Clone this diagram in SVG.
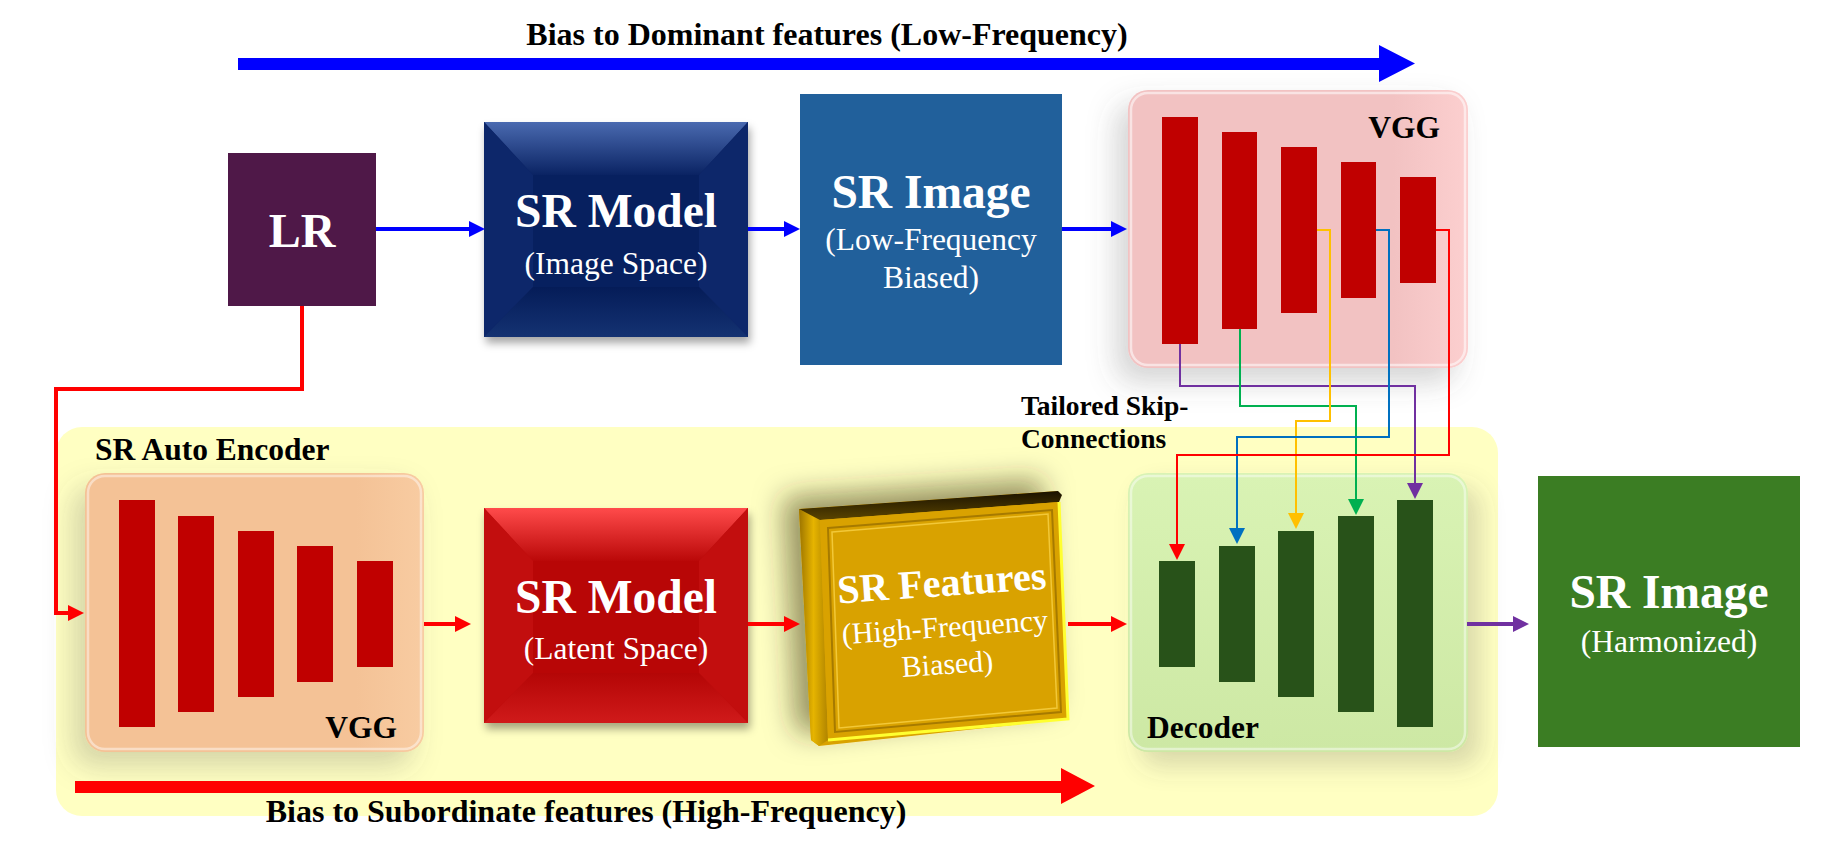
<svg xmlns="http://www.w3.org/2000/svg" width="1840" height="851" viewBox="0 0 1840 851">
<style>
  text { font-family: "Liberation Serif", "Times New Roman", serif; }
  .big { font-size: 47.5px; font-weight: bold; fill: #fff; text-anchor: middle; }
  .sub { font-size: 31.5px; fill: #fff; text-anchor: middle; }
  .lbl { font-size: 31.5px; font-weight: bold; fill: #000; }
  .ttl { font-size: 32px; font-weight: bold; fill: #000; text-anchor: middle; }
  .flow { fill: none; stroke-width: 4; }
  .skip { fill: none; stroke-width: 2; }
  .rbar { fill: #C00000; }
  .gbar { fill: #285219; }
</style>
<defs>
  <filter id="shBox" x="-10%" y="-10%" width="130%" height="130%">
    <feDropShadow dx="2" dy="6" stdDeviation="4" flood-color="#000" flood-opacity="0.35"/>
  </filter>
  <filter id="shLeft" x="-30%" y="-20%" width="160%" height="160%">
    <feDropShadow dx="-12" dy="14" stdDeviation="14" flood-color="#555" flood-opacity="0.25"/>
  </filter>
  <filter id="shRight" x="-20%" y="-20%" width="160%" height="160%">
    <feDropShadow dx="12" dy="14" stdDeviation="12" flood-color="#555" flood-opacity="0.22"/>
  </filter>
  <filter id="shFeat" x="-40%" y="-40%" width="180%" height="180%">
    <feDropShadow dx="-16" dy="-12" stdDeviation="14" flood-color="#302c00" flood-opacity="0.5"/>
  </filter>
  <linearGradient id="pinkG" x1="0" y1="0" x2="1" y2="0">
    <stop offset="0" stop-color="#F2C2C2"/>
    <stop offset="0.78" stop-color="#F2C2C2"/>
    <stop offset="1" stop-color="#FCCFCF"/>
  </linearGradient>
  <linearGradient id="peachG" x1="0" y1="0" x2="1" y2="0">
    <stop offset="0" stop-color="#F4C296"/>
    <stop offset="0.8" stop-color="#F4C296"/>
    <stop offset="1" stop-color="#F8CCA2"/>
  </linearGradient>
  <linearGradient id="decG" x1="0" y1="0" x2="0" y2="1">
    <stop offset="0" stop-color="#D9F3B4"/>
    <stop offset="1" stop-color="#CDE8A4"/>
  </linearGradient>
  <linearGradient id="navyTop" x1="0" y1="0" x2="0" y2="1">
    <stop offset="0" stop-color="#4A6AB0"/>
    <stop offset="1" stop-color="#0A2363"/>
  </linearGradient>
  <linearGradient id="navyBot" x1="0" y1="0" x2="0" y2="1">
    <stop offset="0" stop-color="#051C58"/>
    <stop offset="1" stop-color="#143272"/>
  </linearGradient>
  <linearGradient id="redTop" x1="0" y1="0" x2="0" y2="1">
    <stop offset="0" stop-color="#FF4B4B"/>
    <stop offset="1" stop-color="#BA0808"/>
  </linearGradient>
  <linearGradient id="redBot" x1="0" y1="0" x2="0" y2="1">
    <stop offset="0" stop-color="#B40606"/>
    <stop offset="1" stop-color="#D01A1A"/>
  </linearGradient>
  <linearGradient id="goldSide" x1="0" y1="0" x2="1" y2="0">
    <stop offset="0" stop-color="#9C7400"/>
    <stop offset="0.5" stop-color="#E6B400"/>
    <stop offset="1" stop-color="#B08400"/>
  </linearGradient>
  <linearGradient id="goldTop" x1="0" y1="0" x2="0" y2="1">
    <stop offset="0" stop-color="#1A1200"/>
    <stop offset="1" stop-color="#5A4400"/>
  </linearGradient>
  <marker id="mBlue" markerUnits="userSpaceOnUse" markerWidth="16" markerHeight="16" refX="1" refY="8" orient="auto"><path d="M0,0 L16,8 L0,16 z" fill="#0000FF"/></marker>
  <marker id="mRed" markerUnits="userSpaceOnUse" markerWidth="16" markerHeight="16" refX="1" refY="8" orient="auto"><path d="M0,0 L16,8 L0,16 z" fill="#FF0000"/></marker>
  <marker id="mPurple" markerUnits="userSpaceOnUse" markerWidth="16" markerHeight="16" refX="1" refY="8" orient="auto"><path d="M0,0 L16,8 L0,16 z" fill="#7030A0"/></marker>
  <marker id="mGreen" markerUnits="userSpaceOnUse" markerWidth="16" markerHeight="16" refX="1" refY="8" orient="auto"><path d="M0,0 L16,8 L0,16 z" fill="#00B050"/></marker>
  <marker id="mYellow" markerUnits="userSpaceOnUse" markerWidth="16" markerHeight="16" refX="1" refY="8" orient="auto"><path d="M0,0 L16,8 L0,16 z" fill="#FFC000"/></marker>
  <marker id="mSkyBlue" markerUnits="userSpaceOnUse" markerWidth="16" markerHeight="16" refX="1" refY="8" orient="auto"><path d="M0,0 L16,8 L0,16 z" fill="#0070C0"/></marker>
</defs>

<rect width="1840" height="851" fill="#FFFFFF"/>

<g id="sr-auto-encoder-panel">
  <rect x="56" y="427" width="1442" height="389" rx="26" fill="#FFFFC2"/>
  <text class="lbl" x="95" y="460">SR Auto Encoder</text>
</g>

<g id="title-top">
  <text class="ttl" x="827" y="45">Bias to Dominant features (Low-Frequency)</text>
</g>

<g id="lr">
  <rect x="228" y="153" width="148" height="153" fill="#4F1848"/>
  <text class="big" x="302" y="247" style="font-size:48px">LR</text>
</g>

<g id="sr-model-image" transform="translate(484,122)">
  <g filter="url(#shBox)">
    <rect width="264" height="215" fill="#0A2363"/>
  </g>
  <polygon points="0,0 264,0 215,53 49,53" fill="url(#navyTop)"/>
  <polygon points="0,0 49,53 49,165 0,215" fill="#0D276A"/>
  <polygon points="264,0 215,53 215,165 264,215" fill="#0D276A"/>
  <polygon points="0,215 264,215 215,165 49,165" fill="url(#navyBot)"/>
  <rect x="49" y="53" width="166" height="112" fill="#07205F"/>
  <text class="big" x="132" y="105">SR Model</text>
  <text class="sub" x="132" y="152">(Image Space)</text>
</g>

<g id="sr-image-lf">
  <rect x="800" y="94" width="262" height="271" fill="#21609B"/>
  <text class="big" x="931" y="208">SR Image</text>
  <text class="sub" x="931" y="250">(Low-Frequency</text>
  <text class="sub" x="931" y="288">Biased)</text>
</g>

<g id="vgg-top">
  <rect x="1128" y="90" width="340" height="278" rx="20" fill="url(#pinkG)" filter="url(#shLeft)"/>
  <rect x="1131" y="93" width="334" height="272" rx="17" fill="none" stroke="#FFFFFF" stroke-opacity="0.55" stroke-width="2.5"/>
  <rect class="rbar" x="1162" y="117" width="36" height="227"/>
  <rect class="rbar" x="1222" y="132" width="35" height="197"/>
  <rect class="rbar" x="1281" y="147" width="36" height="166"/>
  <rect class="rbar" x="1341" y="162" width="35" height="136"/>
  <rect class="rbar" x="1400" y="177" width="36" height="106"/>
  <text class="lbl" x="1440" y="138" text-anchor="end">VGG</text>
</g>

<g id="vgg-encoder">
  <rect x="85" y="473" width="339" height="279" rx="20" fill="url(#peachG)" filter="url(#shLeft)"/>
  <rect x="88" y="476" width="333" height="273" rx="17" fill="none" stroke="#FFFFFF" stroke-opacity="0.45" stroke-width="2.5"/>
  <rect class="rbar" x="119" y="500" width="36" height="227"/>
  <rect class="rbar" x="178" y="516" width="36" height="196"/>
  <rect class="rbar" x="238" y="531" width="36" height="166"/>
  <rect class="rbar" x="297" y="546" width="36" height="136"/>
  <rect class="rbar" x="357" y="561" width="36" height="106"/>
  <text class="lbl" x="397" y="738" text-anchor="end">VGG</text>
</g>

<g id="sr-model-latent" transform="translate(484,508)">
  <g filter="url(#shBox)">
    <rect width="264" height="215" fill="#BA0808"/>
  </g>
  <polygon points="0,0 264,0 215,53 49,53" fill="url(#redTop)"/>
  <polygon points="0,0 49,53 49,165 0,215" fill="#C20E0E"/>
  <polygon points="264,0 215,53 215,165 264,215" fill="#C20E0E"/>
  <polygon points="0,215 264,215 215,165 49,165" fill="url(#redBot)"/>
  <rect x="49" y="53" width="166" height="112" fill="#B80606"/>
  <text class="big" x="132" y="105">SR Model</text>
  <text class="sub" x="132" y="151">(Latent Space)</text>
</g>

<g id="sr-features">
  <g filter="url(#shFeat)">
    <polygon points="799,509 1058,491 1068,719 819,746 811,740" fill="#D9A200"/>
  </g>
  <polygon points="799,509 820,520 828,740 819,746 811,740" fill="url(#goldSide)"/>
  <polygon points="799,509 1058,491 1062,495 1059,502 820,520" fill="url(#goldTop)"/>
  <polygon points="820,520 1059,502 1068,719 828,740" fill="#D9A200"/>
  <polyline points="1059,502 1068,719 828,740" fill="none" stroke="#FFFF30" stroke-width="3"/>
  <polygon points="828,528 1052,510 1061,712 835,732" fill="none" stroke="#A67A00" stroke-width="2"/>
  <polygon points="832,532 1048,514 1057,708 839,728" fill="none" stroke="#F2C838" stroke-width="1.5"/>
  <g transform="rotate(-4 945 630)">
    <text class="big" x="945" y="596" style="font-size:40px">SR Features</text>
    <text class="sub" x="945" y="637" style="font-size:30px">(High-Frequency</text>
    <text class="sub" x="945" y="674" style="font-size:30px">Biased)</text>
  </g>
</g>

<g id="decoder">
  <rect x="1128" y="473" width="340" height="279" rx="20" fill="url(#decG)" filter="url(#shRight)"/>
  <rect x="1131" y="476" width="334" height="273" rx="17" fill="none" stroke="#FFFFFF" stroke-opacity="0.45" stroke-width="2.5"/>
  <rect class="gbar" x="1159" y="561" width="36" height="106"/>
  <rect class="gbar" x="1219" y="546" width="36" height="136"/>
  <rect class="gbar" x="1278" y="531" width="36" height="166"/>
  <rect class="gbar" x="1338" y="516" width="36" height="196"/>
  <rect class="gbar" x="1397" y="500" width="36" height="227"/>
  <text class="lbl" x="1147" y="738">Decoder</text>
</g>

<g id="sr-image-harmonized">
  <rect x="1538" y="476" width="262" height="271" fill="#3B7D23"/>
  <text class="big" x="1669" y="608">SR Image</text>
  <text class="sub" x="1669" y="652">(Harmonized)</text>
</g>

<g id="skip-label">
  <text class="lbl" x="1021" y="415" style="font-size:27.5px">Tailored Skip-</text>
  <text class="lbl" x="1021" y="448" style="font-size:27.5px">Connections</text>
</g>

<g id="title-bottom">
  <text class="ttl" x="586" y="822">Bias to Subordinate features (High-Frequency)</text>
</g>

<g id="connectors">
  <path d="M238,58 H1379 V45 L1415,63.5 L1379,82 V70 H238 Z" fill="#0000FF"/>
  <path d="M75,781 H1061 V768 L1095,786 L1061,804 V793 H75 Z" fill="#FF0000"/>
  <path class="flow" d="M376,229 H470" stroke="#0000FF" marker-end="url(#mBlue)"/>
  <path class="flow" d="M748,229 H785" stroke="#0000FF" marker-end="url(#mBlue)"/>
  <path class="flow" d="M1062,229 H1112" stroke="#0000FF" marker-end="url(#mBlue)"/>
  <path class="flow" d="M302,306 V389 H56 V613 H69" stroke="#FF0000" stroke-width="3.5" marker-end="url(#mRed)"/>
  <path class="flow" d="M424,624 H456" stroke="#FF0000" marker-end="url(#mRed)"/>
  <path class="flow" d="M748,624 H785" stroke="#FF0000" marker-end="url(#mRed)"/>
  <path class="flow" d="M1068,624 H1112" stroke="#FF0000" marker-end="url(#mRed)"/>
  <path class="flow" d="M1467,624 H1514" stroke="#7030A0" marker-end="url(#mPurple)"/>
  <path class="skip" d="M1180,344 V386 H1415 V484" stroke="#7030A0" marker-end="url(#mPurple)"/>
  <path class="skip" d="M1240,329 V406 H1356 V500" stroke="#00B050" marker-end="url(#mGreen)"/>
  <path class="skip" d="M1317,230 H1330 V421 H1296 V514" stroke="#FFC000" marker-end="url(#mYellow)"/>
  <path class="skip" d="M1376,230 H1389 V437 H1237 V529" stroke="#0070C0" marker-end="url(#mSkyBlue)"/>
  <path class="skip" d="M1436,230 H1449 V455 H1177 V545" stroke="#FF0000" marker-end="url(#mRed)"/>
</g>
</svg>
